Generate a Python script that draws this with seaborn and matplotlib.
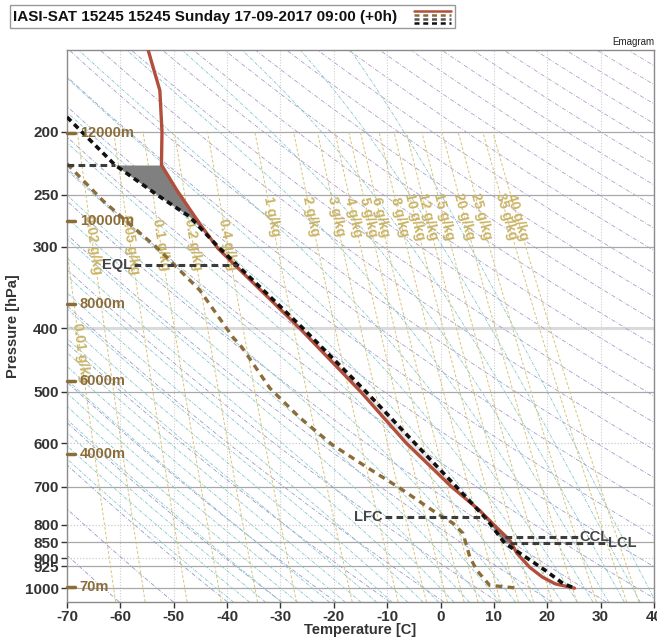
import numpy as np
import matplotlib
matplotlib.use("Agg")
import matplotlib.pyplot as plt
import seaborn as sns
from matplotlib.lines import Line2D
from matplotlib.patches import Rectangle

# sounding (hPa, degC)
temp_p = [150, 173, 200, 225, 232, 246, 277, 302, 400, 464, 500, 600, 700, 760, 800, 845, 884, 929, 962, 985, 1000]
temp_t = [-54.8, -52.6, -52.2, -52.3, -51.3, -49.4, -45.1, -41.7, -26.4, -18.8, -15.0, -6.4, 2.1, 7.3, 10.0, 13.0, 14.3, 16.7, 19.1, 21.5, 25.1]

dew_p = [224, 255, 304, 350, 413, 428, 494, 548, 604, 653, 703, 768, 795, 824, 897, 939, 990, 1000]
dew_t = [-70, -63.3, -52.6, -45.1, -38.9, -37.2, -32.0, -26.4, -20.2, -13.8, -7.6, -0.7, 2.3, 4.2, 5.5, 6.8, 9.2, 14.5]

parcel_p = [190, 225, 250, 270, 300, 400, 500, 600, 700, 779, 795, 853, 890, 939, 983, 1000]
parcel_t = [-70, -61.0, -53.1, -47.0, -41.7, -25.8, -14.0, -4.8, 3.0, 8.3, 9.2, 12.0, 15.4, 19.6, 22.9, 25.1]

# derived levels
level_names = ["", "EQL", "LFC", "CCL", "LCL"]
level_p = [225, 320, 779, 836, 853]
level_t0 = [-70, -57.4, -10.4, 12.0, 13.0]
level_t1 = [-61.0, -38.2, 8.3, 25.7, 31.1]

# heights on the pressure axis
height_labels = ["12000m", "10000m", "8000m", "6000m", "4000m", "70m"]
height_p = [201, 274, 367, 481, 624, 997]

# background grid
mix_ratios = [0.01, 0.02, 0.05, 0.1, 0.2, 0.4, 1, 2, 3, 4, 5, 6, 8, 10, 12, 15, 20, 25, 35, 40]
mix_label_p = [436, 298, 298, 298, 298, 298, 270, 270, 270, 270, 270, 270, 270, 270, 270, 270, 270, 270, 270, 270]
theta_dry = list(range(200, 620, 10))
moist_t0 = list(range(-42, 41, 3))

p_ticks = [200, 250, 300, 400, 500, 600, 700, 800, 850, 900, 925, 1000]
t_ticks = list(range(-70, 41, 10))

title = "IASI-SAT 15245 15245 Sunday 17-09-2017 09:00 (+0h)"

sns.set_theme(style="white")
plt.rcParams["font.family"] = ["Liberation Sans", "DejaVu Sans"]
plt.rcParams["axes.unicode_minus"] = False

fig = plt.figure(figsize=(6.57, 6.37), dpi=100)
ax = fig.add_axes([67 / 657, 1 - 602 / 637, 587 / 657, 552 / 637])
ax.set_yscale("log")
ax.set_xlim(-70, 40)
ax.set_ylim(1050, 150)

pp = np.geomspace(1050, 150, 300)

# isotherms
for t in t_ticks:
    ax.axvline(t, color="#cfcfcf", lw=0.8, ls=(0, (1, 1.5)), zorder=1)

# isobars
for p in p_ticks:
    if p in (600, 800, 900):
        ax.axhline(p, color="#cccccc", lw=0.9, ls=(0, (1, 1.5)), zorder=1)
    elif p == 400:
        ax.axhline(p, color="#dadada", lw=2.2, zorder=1)
    else:
        ax.axhline(p, color="#a8a8a8", lw=0.9, zorder=1)

# dry adiabats
cmap = matplotlib.colors.LinearSegmentedColormap.from_list("dry", ["#8c9ccc", "#cc9fc8"])
for i, th in enumerate(theta_dry):
    tt = th * (pp / 1000.0) ** 0.2857 - 273.15
    ax.plot(tt, pp, color=cmap(i / len(theta_dry)), lw=0.6, ls=(0, (5, 2, 1, 2)), zorder=1.2)

# moist adiabats
Rd, cp, Lv, eps = 287.04, 1005.7, 2.501e6, 0.622


def es(tk):
    return 6.112 * np.exp(17.67 * (tk - 273.15) / (tk - 29.65))


def dtdp(tk, p):
    rs = eps * es(tk) / (p - es(tk))
    return (Rd * tk + Lv * rs) / (p * (cp + Lv * Lv * rs * eps / (Rd * tk * tk)))


def integrate(t0, ps):
    tk = np.asarray(t0, float) + 273.15
    out = [tk.copy()]
    for i in range(1, len(ps)):
        dp = ps[i] - ps[i - 1]
        k1 = dtdp(tk, ps[i - 1])
        k2 = dtdp(tk + dp * k1, ps[i])
        tk = tk + dp * (k1 + k2) / 2
        out.append(tk.copy())
    return np.array(out) - 273.15


p_up = np.linspace(1000, 150, 500)
p_dn = np.linspace(1000, 1050, 30)
m_up = integrate(moist_t0, p_up)
m_dn = integrate(moist_t0, p_dn)
for j in range(len(moist_t0)):
    tt = np.concatenate([m_dn[::-1, j], m_up[1:, j]])
    ps = np.concatenate([p_dn[::-1], p_up[1:]])
    ax.plot(tt, ps, color="#86c6cc", lw=0.6, ls=(0, (4, 1.5, 1, 1.5)), zorder=1.3)

# mixing ratio lines
pm = np.geomspace(1050, 200, 200)


def td_of(w, p):
    e = w * p / (622.0 + w)
    g = np.log(e / 6.112)
    return 243.5 * g / (17.67 - g)


for w in mix_ratios:
    ax.plot(td_of(w, pm), pm, color="#d9c47c", lw=0.7, ls=(0, (3, 2)), zorder=1.4)

for w, lp in zip(mix_ratios, mix_label_p):
    a = ax.transData.transform((td_of(w, lp * 0.95), lp * 0.95))
    b = ax.transData.transform((td_of(w, lp * 1.05), lp * 1.05))
    ang = np.degrees(np.arctan2(b[1] - a[1], b[0] - a[0]))
    lab = f"{w:g} g/kg"
    ax.text(td_of(w, lp), lp, lab, rotation=ang, rotation_mode="anchor", ha="center", va="center",
            color="#c9b466", fontsize=10, fontweight="bold", zorder=3)

# shaded areas between parcel and environment
pf = np.geomspace(225, 853, 400)
lp_t = np.log(temp_p)
lp_c = np.log(parcel_p)
env = np.interp(np.log(pf), lp_t, temp_t)
par = np.interp(np.log(pf), lp_c, parcel_t)
ax.fill_betweenx(pf, par, env, where=(pf <= 300), color="#808080", zorder=2, lw=0)
ax.fill_betweenx(pf, par, env, where=(pf >= 779), color="#808080", zorder=2, lw=0)
ax.fill_betweenx(pf, par, env, where=(pf > 300) & (pf < 779), color="#e6e6e6", zorder=2, lw=0)

# profiles
sns.lineplot(x=temp_t, y=temp_p, sort=False, estimator=None, ax=ax, color="#b24e3c", lw=2.4, zorder=5)
sns.lineplot(x=dew_t, y=dew_p, sort=False, estimator=None, ax=ax, color="#8c6d3a", lw=2.4,
             ls=(0, (2, 1.6)), zorder=5)
sns.lineplot(x=parcel_t, y=parcel_p, sort=False, estimator=None, ax=ax, color="#111111", lw=2.6,
             ls=(0, (1.6, 1.2)), zorder=6)

# levels
for name, p, t0, t1 in zip(level_names, level_p, level_t0, level_t1):
    ax.plot([t0, t1], [p, p], color="#3c3c3c", lw=2.2, ls=(0, (2.2, 1.4)), zorder=7)
    if name in ("EQL", "LFC"):
        ax.text(t0 - 0.4, p, name, ha="right", va="center", color="#444444", fontsize=10.5,
                fontweight="bold", zorder=8)
    elif name:
        ax.text(t1 + 0.3, p, name, ha="left", va="center", color="#444444", fontsize=10.5,
                fontweight="bold", zorder=8)

# heights
for lab, p in zip(height_labels, height_p):
    ax.plot([-70, -68.5], [p, p], color="#8c6d3a", lw=2.5, zorder=8, clip_on=False)
    ax.text(-67.6, p, lab, ha="left", va="center", color="#8c6d3a", fontsize=10.5,
            fontweight="bold", zorder=8)

ax.set_yticks(p_ticks)
ax.set_yticklabels([str(p) for p in p_ticks])
ax.yaxis.set_minor_locator(matplotlib.ticker.NullLocator())
ax.set_xticks(t_ticks)
ax.set_xticklabels([str(t) for t in t_ticks])
ax.tick_params(axis="both", labelsize=11, colors="#333333", length=4, width=1, direction="out",
               left=True, bottom=True, pad=2)
for lab in ax.get_xticklabels() + ax.get_yticklabels():
    lab.set_fontweight("bold")
ax.set_xlabel("Temperature [C]", fontsize=10.5, fontweight="bold", color="#333333", labelpad=-1)
ax.set_ylabel("Pressure [hPa]", fontsize=10.5, fontweight="bold", color="#333333", labelpad=3)
for s in ax.spines.values():
    s.set_color("#8a8a8a")
    s.set_linewidth(1)

fig.text(654 / 657, 1 - 42 / 637, "Emagram", ha="right", va="center", fontsize=7, color="#222222")

# title box with line key
fig.patches.append(Rectangle((10 / 657, 1 - 28 / 637), 445 / 657, 23 / 637, transform=fig.transFigure,
                             facecolor="white", edgecolor="#999999", lw=1))
fig.text(13 / 657, 1 - 16.5 / 637, title, ha="left", va="center", fontsize=11, fontweight="bold",
         color="#111111")
xs = [414 / 657, 451 / 657]
fig.lines.append(Line2D(xs, [1 - 11 / 637] * 2, transform=fig.transFigure, color="#b24e3c", lw=1.8))
fig.lines.append(Line2D(xs, [1 - 15 / 637] * 2, transform=fig.transFigure, color="#8c6d3a", lw=1.8,
                        ls=(0, (2, 1.5))))
fig.lines.append(Line2D(xs, [1 - 19 / 637] * 2, transform=fig.transFigure, color="#555555", lw=1.8,
                        ls=(0, (2, 1.5))))
fig.lines.append(Line2D(xs, [1 - 23 / 637] * 2, transform=fig.transFigure, color="#111111", lw=1.8,
                        ls=(0, (2, 1.5))))

fig.savefig("out.png", dpi=100)
